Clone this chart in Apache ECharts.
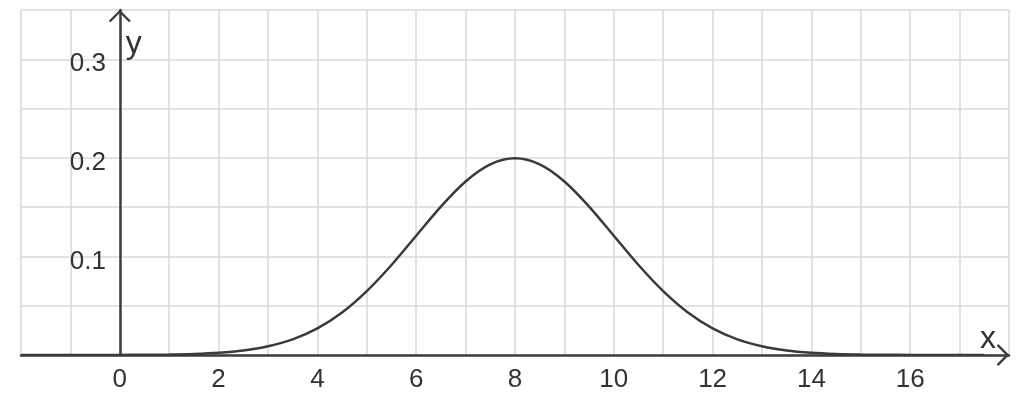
<!DOCTYPE html>
<html>
<head>
<meta charset="utf-8">
<script src="https://cdn.jsdelivr.net/npm/echarts@6/dist/echarts.min.js"></script>
<style>
html,body{margin:0;padding:0;background:#fff;}
#chart{width:1024px;height:397px;}
</style>
</head>
<body>
<div id="chart"></div>
<script>
// Values
var xValues = [-2, -1.5, -1, -0.5, 0, 0.5, 1, 1.5, 2, 2.5, 3, 3.5, 4, 4.5, 5, 5.5, 6, 6.5, 7, 7.5, 8,
               8.5, 9, 9.5, 10, 10.5, 11, 11.5, 12, 12.5, 13, 13.5, 14, 14.5, 15, 15.5, 16, 16.5, 17, 17.5];
var yValues = [0.0000, 0.0000, 0.0000, 0.0000, 0.0001, 0.0002, 0.0004, 0.0010, 0.0022, 0.0045, 0.0088, 0.0159, 0.0270, 0.0431, 0.0648, 0.0913, 0.1210, 0.1506, 0.1760, 0.1933, 0.1995,
               0.1933, 0.1760, 0.1506, 0.1210, 0.0913, 0.0648, 0.0431, 0.0270, 0.0159, 0.0088, 0.0045, 0.0022, 0.0010, 0.0004, 0.0002, 0.0001, 0.0000, 0.0000, 0.0000];
var xTickLabels = [0, 2, 4, 6, 8, 10, 12, 14, 16];
var yTickLabels = [0.1, 0.2, 0.3];

var chevron = 'path://M11,0 L22,11 L20.3,12.6 L11,3.4 L1.7,12.6 L0,11 Z';
var axisColor = '#3d3d3d';
var gridColor = '#d9d9d9';
var textColor = '#333333';
var labelFont = 'Liberation Sans';

var seriesData = xValues.map(function (x, i) { return [x, yValues[i]]; });

var chart = echarts.init(document.getElementById('chart'), null, {renderer: 'canvas'});
chart.setOption({
  backgroundColor: '#ffffff',
  animation: false,
  grid: {left: 21, right: 15, top: 10, bottom: 42, containLabel: false, outerBoundsMode: 'none'},
  xAxis: {
    type: 'value', min: -2, max: 18, interval: 1,
    name: 'x', nameLocation: 'end', nameGap: -29,
    nameTextStyle: {fontFamily: labelFont, fontSize: 32, color: textColor, align: 'left', verticalAlign: 'bottom'},
    axisLine: {onZero: true, lineStyle: {color: axisColor, width: 2.5}, symbol: ['none', chevron], symbolSize: [22, 12.6], symbolOffset: [0, -6]},
    axisTick: {show: false},
    splitLine: {show: true, lineStyle: {color: gridColor, width: 1.5}},
    axisLabel: {
      fontFamily: labelFont, fontSize: 26, color: textColor, margin: 12,
      formatter: function (v) { return xTickLabels.indexOf(v) >= 0 ? String(v) : ''; }
    }
  },
  yAxis: {
    type: 'value', min: 0, max: 0.35, interval: 0.05,
    name: 'y', nameLocation: 'end', nameGap: -18,
    nameTextStyle: {fontFamily: labelFont, fontSize: 32, color: textColor, align: 'left', verticalAlign: 'top', padding: [0, 0, 0, 6]},
    axisLine: {onZero: true, lineStyle: {color: axisColor, width: 2.5}, symbol: ['none', chevron], symbolSize: [22, 12.6], symbolOffset: [0, -6]},
    axisTick: {show: false},
    splitLine: {show: true, lineStyle: {color: gridColor, width: 1.5}},
    axisLabel: {
      fontFamily: labelFont, fontSize: 26, color: textColor, margin: -85,
      verticalAlign: 'top', lineHeight: 10,
      formatter: function (v) {
        var r = Math.round(v * 100) / 100;
        return yTickLabels.indexOf(r) >= 0 ? String(r) : '';
      }
    }
  },
  series: [{
    type: 'line', data: seriesData, smooth: 0.3, showSymbol: false,
    lineStyle: {color: '#3a3a3a', width: 2.5}, z: 1
  }]
});
</script>
</body>
</html>
